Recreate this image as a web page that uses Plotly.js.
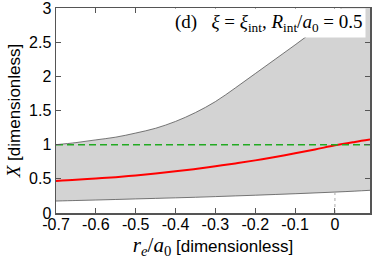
<!DOCTYPE html>
<html><head><meta charset="utf-8">
<script src="https://cdn.plot.ly/plotly-3.0.1.min.js"></script>
<style>html,body{margin:0;padding:0;background:#fff}#chart{width:374px;height:261px}</style>
</head><body><div id="chart"></div>
<script>
const reA0 = [-0.7,-0.65,-0.6,-0.55,-0.5,-0.45,-0.4,-0.35,-0.3,-0.25,-0.2,-0.15,-0.1,-0.05,0,0.05,0.088];
const upperX = [1.00,1.03,1.07,1.11,1.17,1.24,1.34,1.47,1.63,1.83,2.04,2.25,2.46,2.68,2.92,3.16,3.35];
const lowerX = [0.175,0.183,0.19,0.198,0.206,0.214,0.222,0.23,0.24,0.25,0.26,0.271,0.282,0.294,0.306,0.32,0.332];
const redX = [0.47,0.485,0.505,0.525,0.55,0.578,0.61,0.645,0.685,0.725,0.77,0.82,0.875,0.93,0.99,1.04,1.075];
const refLine = [1,1];
const xTicks = [-0.7,-0.6,-0.5,-0.4,-0.3,-0.2,-0.1,0];
const xTickText = ['-0.7','-0.6','-0.5','-0.4','-0.3','-0.2','-0.1','0'];
const yTicks = [0,0.5,1,1.5,2,2.5,3];
const yTickText = ['0','0.5','1','1.5','2','2.5','3'];

const xEnds = [reA0[0], reA0[reA0.length-1]];
const i0 = reA0.indexOf(0);

const traces = [
  {x: reA0, y: lowerX, mode:'lines', line:{color:'#555', width:0.8, shape:'spline'}, hoverinfo:'skip'},
  {x: reA0, y: upperX, mode:'lines', fill:'tonexty', fillcolor:'#d3d3d3', line:{color:'#555', width:0.8, shape:'spline'}, hoverinfo:'skip'},
  {x: [0,0], y: [0, lowerX[i0]], mode:'lines', line:{color:'#aaa', width:1, dash:'dot'}, hoverinfo:'skip'},
  {x: reA0, y: redX, mode:'lines', line:{color:'#ff0000', width:2, shape:'spline'}, hoverinfo:'skip'},
  {x: xEnds, y: refLine, mode:'lines', line:{color:'#22aa22', width:1.5, dash:'7px,4px'}, hoverinfo:'skip'}
];

const axisCommon = {showline:true, linecolor:'#555', linewidth:1.5, mirror:'ticks', ticks:'inside', ticklen:5, tickcolor:'#555', tickwidth:1, showgrid:false, zeroline:false, ticklabeloverflow:'allow', tickfont:{family:'Liberation Sans, Arial, sans-serif', size:16, color:'#000'}};

const layout = {
  width:374, height:261,
  margin:{l:56, r:4, t:8, b:48},
  paper_bgcolor:'#fff', plot_bgcolor:'#fff',
  showlegend:false,
  xaxis: Object.assign({}, axisCommon, {range:[-0.7,0.088], tickvals:xTicks, ticktext:xTickText, ticklabelstandoff:-4,
    title:{text:"<span style=\"font-family:'Liberation Serif';font-size:21px\"><i>r<sub>e</sub></i>/<i>a</i><sub>0</sub></span> [dimensionless]", font:{family:'Liberation Sans, Arial, sans-serif', size:17, color:'#000'}, standoff:0}}),
  yaxis: Object.assign({}, axisCommon, {range:[0,3], tickvals:yTicks, ticktext:yTickText,
    title:{text:"<span style=\"font-family:'Liberation Serif';font-size:19px\"><i>X</i></span> [dimensionless]", font:{family:'Liberation Sans, Arial, sans-serif', size:17, color:'#000'}, standoff:4}}),
  annotations:[{xref:'paper', yref:'paper', x:1, y:1, xanchor:'right', yanchor:'top', xshift:-4, yshift:0, showarrow:false, bgcolor:'#fff', borderpad:2,
    text:"(d)&nbsp;&nbsp; <i>ξ</i> = <i>ξ</i><sub>int</sub>, <i>R</i><sub>int</sub>/<i>a</i><sub>0</sub> = 0.5",
    font:{family:'Liberation Serif, Times New Roman, serif', size:19, color:'#000'}}]
};
Plotly.newPlot('chart', traces, layout, {staticPlot:true, displayModeBar:false});
</script></body></html>
